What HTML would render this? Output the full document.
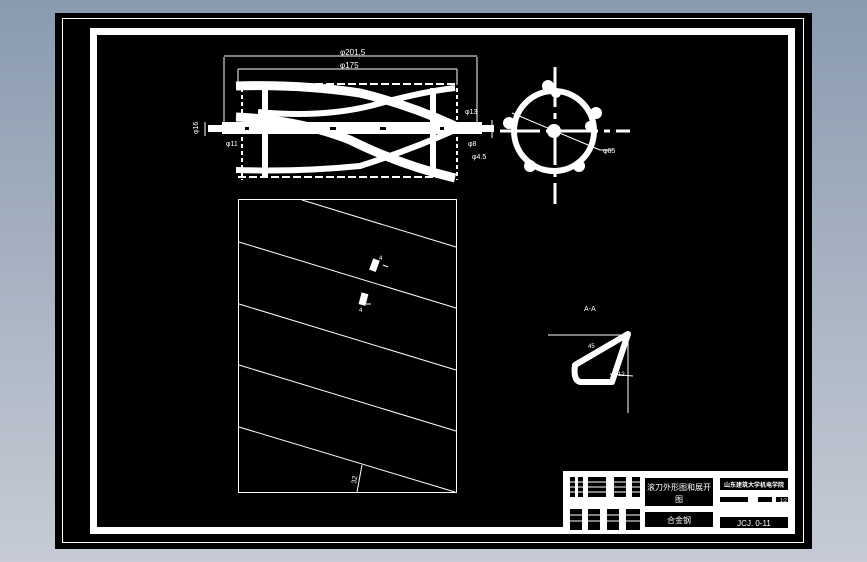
<!DOCTYPE html>
<html><head><meta charset="utf-8"><style>
html,body{margin:0;padding:0;width:867px;height:562px;overflow:hidden;background:linear-gradient(#8a9bb0,#c6cbd5);}
svg{display:block}
text{font-family:"Liberation Sans","Noto Sans CJK SC",sans-serif;fill:#fff}
</style></head><body>
<svg width="867" height="562" viewBox="0 0 867 562">
<rect x="55" y="13" width="757" height="536" fill="#000"/>
<rect x="62.5" y="18.5" width="741" height="524" fill="none" stroke="#fff" stroke-width="1"/>
<rect x="93.5" y="31.5" width="698" height="499" fill="none" stroke="#fff" stroke-width="7"/>

<!-- top-left roller -->
<g stroke="#fff" fill="none">
<line x1="224" y1="57" x2="224" y2="125" stroke-width="1"/>
<line x1="477" y1="57" x2="477" y2="125" stroke-width="1"/>
<line x1="224" y1="56" x2="477" y2="56" stroke-width="1"/>
<line x1="238" y1="69" x2="457" y2="69" stroke-width="1"/>
<line x1="238" y1="69" x2="238" y2="85" stroke-width="1"/>
<line x1="457" y1="69" x2="457" y2="85" stroke-width="1"/>
<path d="M236 86 Q300 84 360 93 Q410 105 455 126" stroke-width="9"/>
<path d="M236 117 Q300 120 350 140 Q400 165 455 178" stroke-width="9"/>
<path d="M236 170 Q300 172 360 166 Q410 150 455 130" stroke-width="6"/>
<path d="M258 112 Q320 118 370 106 Q420 92 455 88" stroke-width="6"/>
<line x1="238" y1="84" x2="457" y2="84" stroke-width="2" stroke-dasharray="8,3"/>
<line x1="238" y1="177" x2="457" y2="177" stroke-width="2" stroke-dasharray="8,3"/>
<line x1="242" y1="88" x2="242" y2="180" stroke-width="2" stroke-dasharray="4,3"/>
<line x1="457" y1="88" x2="457" y2="180" stroke-width="2" stroke-dasharray="4,3"/>
<line x1="265" y1="90" x2="265" y2="178" stroke-width="6"/>
<line x1="433" y1="88" x2="433" y2="172" stroke-width="6"/>
<rect x="222" y="122" width="260" height="12" fill="#fff" stroke="none"/>
<rect x="208" y="125" width="16" height="7" fill="#fff" stroke="none"/>
<rect x="480" y="125" width="14" height="7" fill="#fff" stroke="none"/>
<line x1="205" y1="122" x2="205" y2="136" stroke-width="1"/>
<line x1="492" y1="120" x2="492" y2="138" stroke-width="1"/>
</g>
<g fill="#000"><rect x="245" y="127" width="4" height="3"/><rect x="440" y="127" width="4" height="3"/><rect x="330" y="127" width="6" height="3"/><rect x="380" y="127" width="6" height="3"/></g>
<text x="340" y="55" font-size="8">φ201.5</text>
<text x="340" y="68" font-size="8">φ175</text>
<text x="465" y="114" font-size="7">φ13</text>
<text x="468" y="146" font-size="7">φ8</text>
<text x="472" y="159" font-size="7">φ4.5</text>
<text x="226" y="146" font-size="7">φ11</text>
<text x="198" y="134" font-size="7" transform="rotate(-90 198 134)">φ16</text>

<!-- circle view -->
<g stroke="#fff" fill="none">
<line x1="500" y1="131" x2="630" y2="131" stroke-width="3" stroke-dasharray="40,6,6,6"/>
<line x1="555" y1="67" x2="555" y2="204" stroke-width="3" stroke-dasharray="40,6,6,6"/>
<circle cx="554" cy="131" r="40" stroke-width="6"/>
<circle cx="554" cy="131" r="7" fill="#fff" stroke="none"/>
<line x1="512" y1="113" x2="600" y2="150" stroke-width="1"/>
<line x1="600" y1="150" x2="613" y2="150" stroke-width="1"/>
</g>
<g fill="#fff"><circle cx="548" cy="86" r="6"/><circle cx="596" cy="113" r="6"/><circle cx="579" cy="166" r="6"/><circle cx="530" cy="166" r="6"/><circle cx="509" cy="123" r="6"/><circle cx="556" cy="93" r="5"/><circle cx="590" cy="126" r="5"/></g>
<text x="603" y="153" font-size="7">φ65</text>

<!-- development view -->
<rect x="238.5" y="199.5" width="218" height="293" fill="none" stroke="#fff" stroke-width="1"/>
<g stroke="#fff" stroke-width="1">
<line x1="302" y1="200" x2="456" y2="247"/>
<line x1="239" y1="242" x2="456" y2="308"/>
<line x1="239" y1="304" x2="456" y2="370"/>
<line x1="239" y1="365" x2="456" y2="431"/>
<line x1="239" y1="427" x2="455" y2="492"/>
<line x1="362" y1="465" x2="357" y2="492"/>
<line x1="383" y1="265" x2="388" y2="267"/>
<line x1="366" y1="304" x2="371" y2="304"/>
</g>
<rect x="371" y="259" width="7" height="12" fill="#fff" transform="rotate(20 374 265)"/>
<rect x="360" y="293" width="7" height="12" fill="#fff" transform="rotate(15 363 299)"/>
<text x="379" y="260" font-size="6">4</text>
<text x="359" y="312" font-size="6">4</text>
<text x="356" y="484" font-size="7" transform="rotate(-80 356 484)">32</text>

<!-- section A-A -->
<text x="584" y="311" font-size="7">A-A</text>
<g stroke="#fff" fill="none">
<line x1="548" y1="335" x2="630" y2="335" stroke-width="1"/>
<line x1="628" y1="335" x2="628" y2="413" stroke-width="1"/>
<path d="M628 334 L612 382 L580 382 Q573 380 575 365 Z" stroke-width="6" stroke-linejoin="round"/>
<line x1="610" y1="374" x2="633" y2="376" stroke-width="1"/>
</g>
<text x="588" y="348" font-size="6">45</text>
<text x="618" y="376" font-size="6">12</text>

<!-- title block -->
<rect x="563" y="471" width="232" height="60" fill="#fff"/>
<g fill="#000">
<rect x="570" y="477" width="5" height="20"/><rect x="578" y="477" width="5" height="20"/>
<rect x="588" y="477" width="18" height="20"/><rect x="614" y="477" width="12" height="20"/><rect x="632" y="477" width="8" height="20"/>
<rect x="570" y="509" width="12" height="21"/><rect x="588" y="509" width="12" height="21"/><rect x="607" y="509" width="12" height="21"/><rect x="626" y="509" width="14" height="21"/>
<rect x="645" y="478" width="68" height="28"/><rect x="645" y="512" width="68" height="15"/>
<rect x="720" y="478" width="68" height="12"/><rect x="720" y="517" width="68" height="11"/>
<rect x="720" y="497" width="28" height="5"/><rect x="758" y="497" width="14" height="5"/><rect x="776" y="497" width="12" height="5"/>
</g>
<g stroke="#fff" stroke-width="1"><line x1="570" y1="482" x2="640" y2="482"/><line x1="570" y1="487" x2="640" y2="487"/><line x1="570" y1="492" x2="640" y2="492"/><line x1="570" y1="515" x2="640" y2="515"/><line x1="570" y1="521" x2="640" y2="521"/></g>
<text x="679" y="490" font-size="8" text-anchor="middle">滚刀外形图和展开</text>
<text x="679" y="502" font-size="8" text-anchor="middle">图</text>
<text x="679" y="523" font-size="8" text-anchor="middle">合金钢</text>
<text x="754" y="487" font-size="6" text-anchor="middle" font-weight="bold">山东建筑大学机电学院</text>
<text x="754" y="526" font-size="8" text-anchor="middle">JCJ. 0-11</text>
<text x="780" y="502" font-size="5">1:2</text>
</svg>
</body></html>
